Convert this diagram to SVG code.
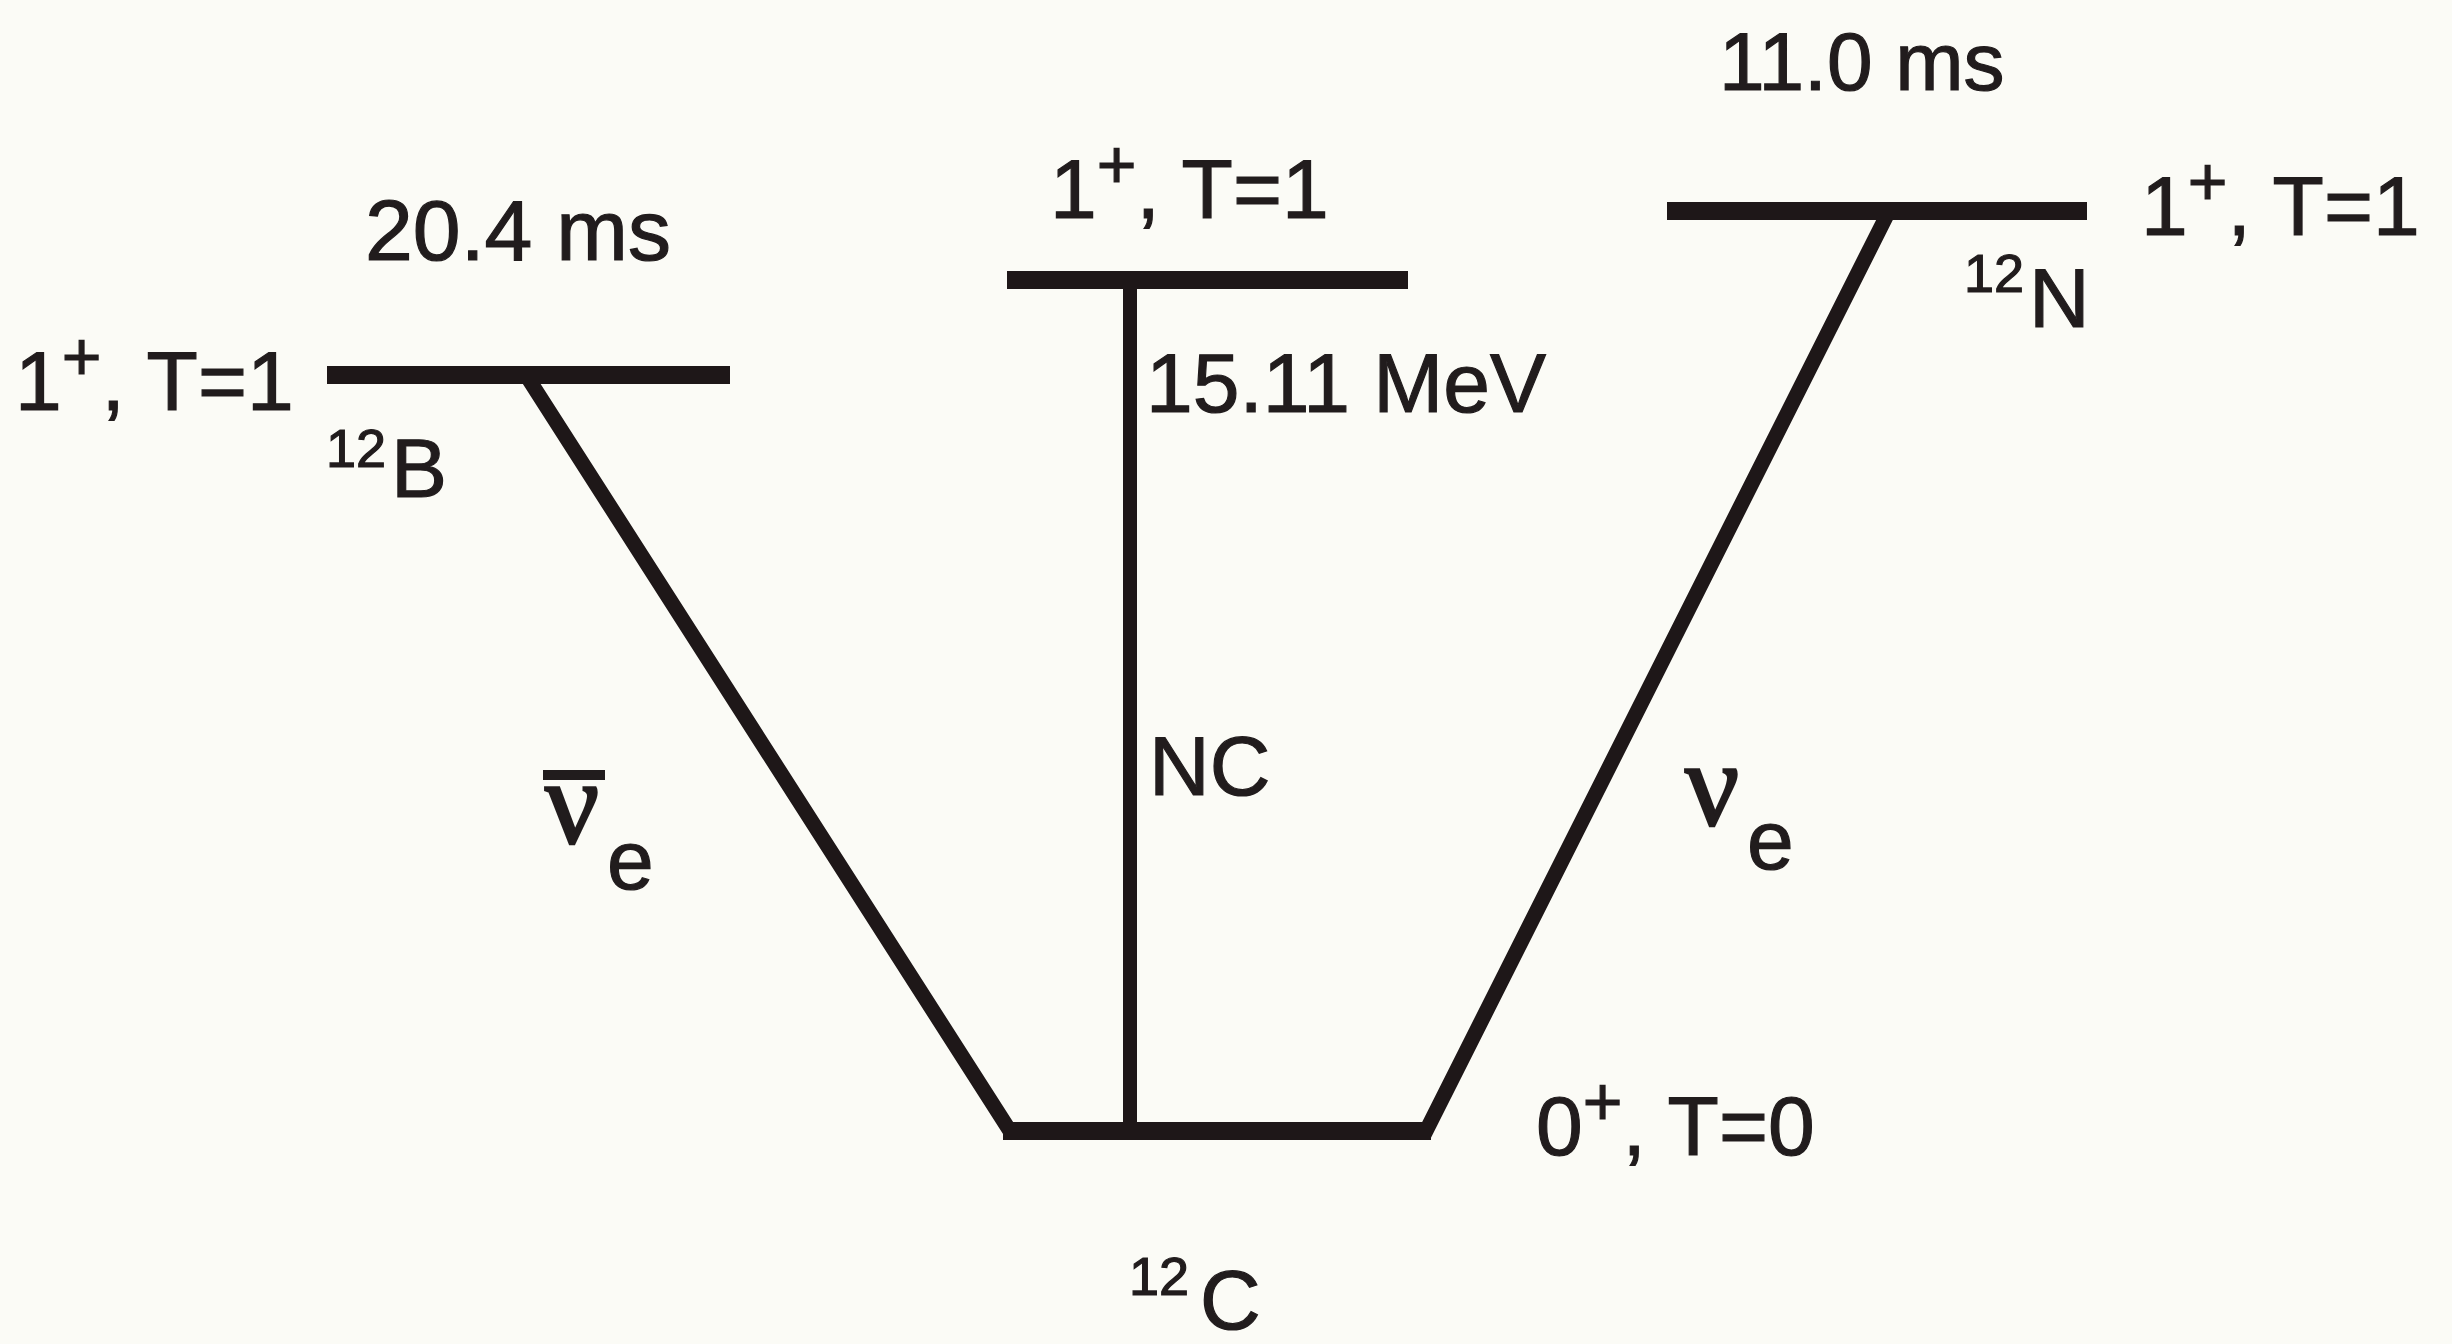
<svg xmlns="http://www.w3.org/2000/svg" width="2452" height="1344" viewBox="0 0 2452 1344">
<style>
.t{font-family:"Liberation Sans",Arial,Helvetica,sans-serif;font-size:84px;fill:#211c1d;stroke:#211c1d;stroke-width:1.2}
.sup{font-size:68px}
.iso{font-size:54px}
.nu{font-family:"Liberation Serif","Times New Roman",serif;font-size:120px;fill:#211c1d;stroke:#211c1d;stroke-width:2.5}
.lvl{stroke:#1e1718;stroke-width:18;fill:none;stroke-linecap:butt}
.con{stroke:#1e1718;stroke-width:15;fill:none;stroke-linejoin:miter;stroke-linecap:butt}
</style>
<rect width="2452" height="1344" fill="#fbfbf6"/>
<g id="connectors">
<path class="con" d="M526,375 L1010,1131 L1040,1131"/>
<path class="con" d="M1130,280 L1130,1131" style="stroke-width:14"/>
<path class="con" d="M1396,1131 L1426,1131 L1889,211"/>
<g id="label-nubar-e">
<line x1="543" y1="775" x2="605" y2="775" stroke="#211c1d" stroke-width="10"/>
<text class="nu" x="545" y="843">ν</text>
<text class="t" x="607" y="889">e</text>
</g>
<text id="label-NC" class="t" x="1149" y="795">NC</text>
<g id="label-nu-e">
<text class="nu" x="1685" y="825">ν</text>
<text class="t" x="1747" y="869">e</text>
</g>
</g>
<g id="node-12B">
<line class="lvl" x1="327" y1="375" x2="730" y2="375" stroke-width="17"/>
<text class="t" x="365" y="260" style="font-size:86px">20.4 ms</text>
<text class="t" x="15" y="410">1<tspan class="sup" dy="-30">+</tspan><tspan dy="30">, T=1</tspan></text>
<text class="t iso" x="326" y="467">12</text>
<text class="t" x="391" y="497">B</text>
</g>
<g id="node-12C-excited">
<line class="lvl" x1="1007" y1="280" x2="1408" y2="280"/>
<text class="t" x="1050" y="218">1<tspan class="sup" dy="-30">+</tspan><tspan dy="30">, T=1</tspan></text>
<text class="t" x="1146" y="412">15.11 MeV</text>
</g>
<g id="node-12N">
<line class="lvl" x1="1667" y1="211" x2="2087" y2="211" stroke-width="19"/>
<text class="t" x="1719" y="90" style="font-size:82px">11.0 ms</text>
<text class="t" x="2141" y="235">1<tspan class="sup" dy="-30">+</tspan><tspan dy="30">, T=1</tspan></text>
<text class="t iso" x="1964" y="292">12</text>
<text class="t" x="2029" y="327">N</text>
</g>
<g id="node-12C-ground">
<line class="lvl" x1="1003" y1="1131" x2="1431" y2="1131"/>
<text class="t" x="1536" y="1155">0<tspan class="sup" dy="-30">+</tspan><tspan dy="30">, T=0</tspan></text>
<text class="t iso" x="1129" y="1295">12</text>
<text class="t" x="1200" y="1329">C</text>
</g>
</svg>
